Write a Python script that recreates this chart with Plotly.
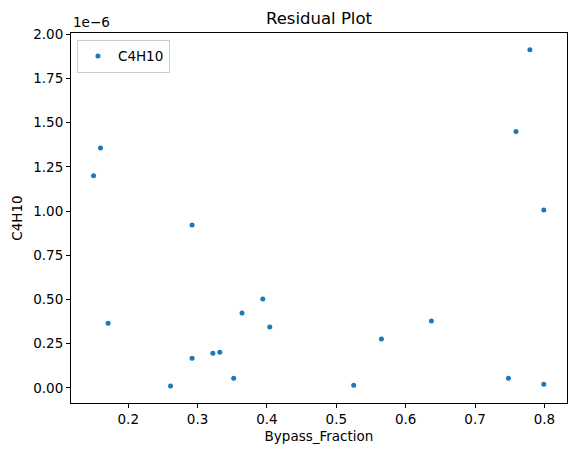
import plotly.graph_objects as go

# dados (resíduos em unidades absolutas)
bypass_fraction = [0.150, 0.160, 0.171, 0.261, 0.292, 0.292, 0.322, 0.332, 0.352, 0.364,
                   0.394, 0.404, 0.525, 0.565, 0.637, 0.748, 0.759, 0.779, 0.799, 0.799]
c4h10 = [1.199e-6, 1.357e-6, 0.366e-6, 0.010e-6, 0.921e-6, 0.168e-6, 0.196e-6, 0.202e-6, 0.055e-6, 0.423e-6,
         0.502e-6, 0.344e-6, 0.015e-6, 0.276e-6, 0.378e-6, 0.055e-6, 1.450e-6, 1.912e-6, 1.006e-6, 0.021e-6]

x_ticks = [0.2, 0.3, 0.4, 0.5, 0.6, 0.7, 0.8]
y_ticks = [0.0, 0.25e-6, 0.5e-6, 0.75e-6, 1.0e-6, 1.25e-6, 1.5e-6, 1.75e-6, 2.0e-6]
y_tick_labels = ["0.00", "0.25", "0.50", "0.75", "1.00", "1.25", "1.50", "1.75", "2.00"]

fonte = "DejaVu Sans"
azul = "#1f77b4"
tam = 13.5

fig = go.Figure()
fig.add_trace(go.Scatter(
    x=bypass_fraction, y=c4h10, mode="markers", name="C4H10",
    marker=dict(color=azul, size=5, line=dict(width=0)),
))

eixo = dict(
    showline=True, linecolor="black", linewidth=1, mirror=True,
    ticks="outside", ticklen=4, tickwidth=1, tickcolor="black",
    showgrid=False, zeroline=False, automargin=False,
    tickfont=dict(family=fonte, size=tam, color="black"),
)

fig.update_layout(
    width=576, height=455,
    margin=dict(l=71, r=9, t=33, b=52),
    paper_bgcolor="white", plot_bgcolor="white",
    font=dict(family=fonte, size=tam, color="black"),
    title=dict(text="Residual Plot", x=0.5, xanchor="center", y=0.96, yanchor="middle",
               xref="paper", font=dict(family=fonte, size=16.5, color="black")),
    xaxis=dict(eixo, range=[0.1175, 0.8325], tickvals=x_ticks,
               ticktext=[f"{v:.1f}" for v in x_ticks],
               title=dict(text="Bypass_Fraction", standoff=5,
                          font=dict(family=fonte, size=tam))),
    yaxis=dict(eixo, range=[-0.0855e-6, 2.007e-6], tickvals=y_ticks, ticktext=y_tick_labels,
               title=dict(text="C4H10", standoff=7,
                          font=dict(family=fonte, size=tam))),
    showlegend=True,
    legend=dict(x=0.012, y=0.982, xanchor="left", yanchor="top",
                bgcolor="rgba(255,255,255,0.8)", bordercolor="#cccccc", borderwidth=1,
                font=dict(family=fonte, size=tam), itemwidth=30),
    annotations=[dict(text="1e\u22126", xref="paper", yref="paper", x=0.0, y=1.0,
                      xanchor="left", yanchor="bottom", showarrow=False, yshift=1,
                      font=dict(family=fonte, size=tam, color="black"))],
)

# remove a margem padrão do body para a figura ocupar a janela inteira
fig.write_html("out.html", config={"displayModeBar": False},
               post_script="document.body.style.margin='0';")
